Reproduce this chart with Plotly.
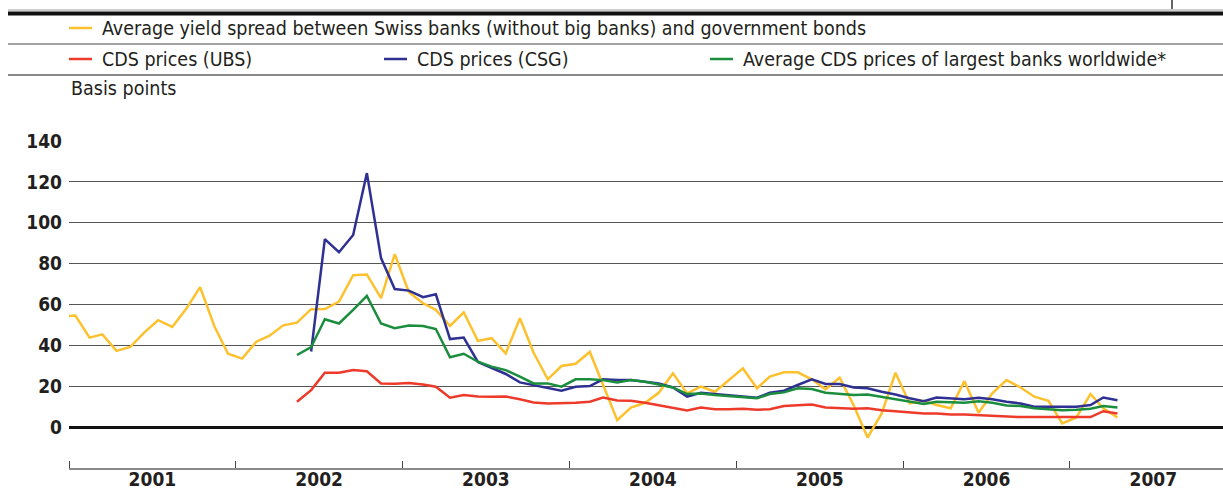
import pandas as pd
import plotly.graph_objects as go

# ---------------- data (basis points, monthly) ----------------
yield_start = "2000-12"
yield_spread = [
    54.2,
    54.6, 43.8, 45.4, 37.3, 39.2, 46.4, 52.3, 49.0, 58.0, 68.5, 49.5, 35.9,   # 2001
    33.5, 41.8, 44.6, 49.8, 51.1, 57.7, 57.8, 61.4, 74.3, 74.7, 63.1, 84.6,   # 2002
    66.0, 60.6, 57.4, 49.5, 56.2, 42.2, 43.5, 36.1, 53.3, 36.4, 23.4, 29.9,   # 2003
    31.0, 36.8, 21.0, 3.4, 9.6, 11.9, 16.8, 26.3, 16.5, 19.8, 17.3, 23.0,     # 2004
    28.8, 19.0, 24.7, 26.8, 26.8, 23.4, 18.5, 24.2, 10.5, -5.1, 6.7, 26.6,    # 2005
    11.6, 12.9, 10.8, 9.2, 22.5, 7.0, 16.5, 23.0, 19.4, 14.9, 12.9, 1.8,      # 2006
    4.7, 16.2, 9.2, 4.7,                                                      # 2007
]

ubs_start = "2002-05"
cds_ubs = [
    12.4, 18.1, 26.6, 26.6, 27.9, 27.3, 21.4, 21.2,                           # 2002
    21.6, 20.9, 19.8, 14.4, 15.7, 15.0, 14.9, 15.0, 13.6, 12.1, 11.6, 11.6,   # 2003
    11.9, 12.4, 14.5, 13.0, 12.9, 11.9, 10.6, 9.5, 8.2, 9.6, 8.8, 8.8,        # 2004
    9.0, 8.5, 8.7, 10.3, 10.8, 11.1, 9.6, 9.2, 9.0, 9.2, 8.3, 7.8,            # 2005
    7.2, 6.7, 6.7, 6.2, 6.2, 5.9, 5.4, 5.1, 4.9, 4.9, 4.9, 4.9,               # 2006
    4.9, 4.9, 7.8, 6.7,                                                       # 2007
]

csg_start = "2002-06"
cds_csg = [
    37.0, 92.0, 85.6, 94.0, 124.3, 82.7, 67.6,                                # 2002
    66.8, 63.6, 65.0, 43.1, 43.8, 31.9, 28.9, 26.0, 21.9, 20.6, 19.4, 17.8,   # 2003
    19.7, 20.1, 23.4, 23.0, 23.0, 22.2, 21.4, 19.4, 14.9, 16.8, 16.2, 15.7,   # 2004
    15.2, 14.4, 16.8, 17.8, 20.6, 23.4, 21.1, 21.1, 19.4, 19.0, 17.3, 16.0,   # 2005
    14.1, 12.7, 14.5, 14.2, 13.7, 14.4, 13.6, 12.4, 11.6, 10.0, 10.0, 10.3,   # 2006
    10.0, 10.8, 14.5, 13.2,                                                   # 2007
]

world_start = "2002-05"
cds_world = [
    35.3, 39.1, 52.8, 50.7, 57.4, 64.2, 50.7, 48.4,                           # 2002
    49.7, 49.5, 48.0, 34.2, 35.9, 32.0, 29.6, 27.9, 24.7, 21.4, 21.4, 19.8,   # 2003
    23.4, 23.4, 23.0, 21.9, 23.0, 22.2, 20.9, 19.4, 16.2, 16.5, 15.7, 15.2,   # 2004
    14.9, 14.1, 16.2, 17.0, 19.0, 18.6, 16.8, 16.2, 15.7, 16.0, 14.9, 13.6,   # 2005
    12.4, 11.3, 12.4, 12.1, 11.9, 12.7, 11.9, 10.6, 10.3, 9.2, 8.7, 8.3,      # 2006
    8.5, 9.0, 10.3, 9.6,                                                      # 2007
]

y_ticks = [0, 20, 40, 60, 80, 100, 120, 140]

legend_labels = [
    "Average yield spread between Swiss banks (without big banks) and government bonds",
    "CDS prices (UBS)",
    "CDS prices (CSG)",
    "Average CDS prices of largest banks worldwide*",
]
y_title = "Basis points"

COL_YELLOW = "#FDC12E"
COL_RED = "#EE3A2B"
COL_BLUE = "#2E3192"
COL_GREEN = "#1B8E3E"
TEXT = "#231F20"
FONT = "DejaVu Sans Condensed, Liberation Sans, sans-serif"


def months(start, n):
    return pd.date_range(start + "-01", periods=n, freq="MS") + pd.Timedelta(days=14)


# ---------------- geometry ----------------
W, H = 1223, 490
PL, PR = 69, 1223          # plot left/right (px)
PT, PB = 141, 468          # plot top/bottom (px)


def px_x(x):
    return (x - PL) / (PR - PL)


def px_y(y):
    return (PB - y) / (PB - PT)


fig = go.Figure()
series = [
    (yield_start, yield_spread, COL_YELLOW, legend_labels[0]),
    (ubs_start, cds_ubs, COL_RED, legend_labels[1]),
    (csg_start, cds_csg, COL_BLUE, legend_labels[2]),
    (world_start, cds_world, COL_GREEN, legend_labels[3]),
]
for start, vals, col, name in series:
    fig.add_trace(go.Scatter(
        x=months(start, len(vals)), y=vals, mode="lines", name=name,
        line=dict(color=col, width=2.5), showlegend=False, hoverinfo="skip",
    ))

shapes = []
annotations = []

# header rules
shapes.append(dict(type="line", xref="paper", yref="paper",
                   x0=px_x(8), x1=px_x(1223), y0=px_y(10), y1=px_y(10),
                   line=dict(color="#9a9a9a", width=1)))
shapes.append(dict(type="line", xref="paper", yref="paper",
                   x0=px_x(8), x1=px_x(1223), y0=px_y(13.5), y1=px_y(13.5),
                   line=dict(color="#111111", width=4)))
shapes.append(dict(type="line", xref="paper", yref="paper",
                   x0=px_x(8), x1=px_x(1223), y0=px_y(44), y1=px_y(44),
                   line=dict(color="#444444", width=1)))
shapes.append(dict(type="line", xref="paper", yref="paper",
                   x0=px_x(8), x1=px_x(1223), y0=px_y(75), y1=px_y(75),
                   line=dict(color="#8a8a8a", width=2)))
# small cut-off glyph at top right
shapes.append(dict(type="line", xref="paper", yref="paper",
                   x0=px_x(1172), x1=px_x(1172), y0=px_y(0), y1=px_y(9),
                   line=dict(color="#333333", width=1.5)))

# manual legend
legend_pos = [
    (69, 100, 28, COL_YELLOW, legend_labels[0]),
    (69, 100, 59, COL_RED, legend_labels[1]),
    (384, 415, 59, COL_BLUE, legend_labels[2]),
    (710, 741, 59, COL_GREEN, legend_labels[3]),
]
for sx, tx, cy, col, label in legend_pos:
    shapes.append(dict(type="line", xref="paper", yref="paper",
                       x0=px_x(sx), x1=px_x(sx + 23), y0=px_y(cy), y1=px_y(cy),
                       line=dict(color=col, width=2.5)))
    annotations.append(dict(text=label, xref="paper", yref="paper",
                            x=px_x(tx), y=px_y(cy), xanchor="left", yanchor="middle",
                            showarrow=False, font=dict(family=FONT, size=19.5, color=TEXT)))

annotations.append(dict(text=y_title, xref="paper", yref="paper",
                        x=px_x(69), y=px_y(89), xanchor="left", yanchor="middle",
                        showarrow=False, font=dict(family=FONT, size=19.5, color=TEXT)))

fig.update_layout(
    width=W, height=H,
    margin=dict(l=PL, r=W - PR, t=PT, b=H - PB, pad=0),
    paper_bgcolor="white", plot_bgcolor="white",
    showlegend=False,
    shapes=shapes, annotations=annotations,
    xaxis=dict(
        type="date", range=["2001-01-01", "2007-12-02"],
        tick0="2001-01-01", dtick="M12", tickformat="%Y", ticklabelmode="period",
        ticks="inside", ticklen=7, tickcolor="#444444", tickwidth=1,
        ticklabelstandoff=-7,
        showline=True, linecolor="#8a8a8a", linewidth=2,
        showgrid=False, zeroline=False, automargin=False,
        tickfont=dict(family=FONT, size=19, color=TEXT, weight="bold"),
    ),
    yaxis=dict(
        range=[-20, 140], tickvals=y_ticks,
        showgrid=True, gridcolor="#555555", gridwidth=1,
        zeroline=True, zerolinecolor="#111111", zerolinewidth=3,
        showline=False, ticks="", ticklabelstandoff=6, automargin=False,
        tickfont=dict(family=FONT, size=19, color=TEXT, weight="bold"),
    ),
)

fig.write_html("out.html")
